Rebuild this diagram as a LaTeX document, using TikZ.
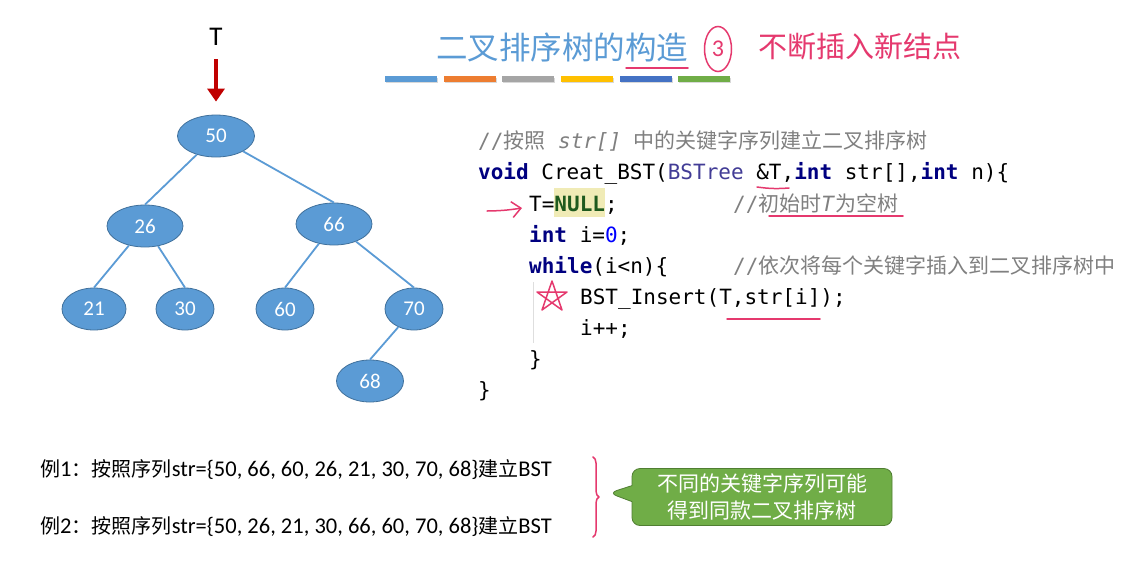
\documentclass[tikz,border=0pt]{standalone}
\usepackage{fontspec}
\setmainfont{Carlito}
\setmonofont{DejaVu Sans Mono}
\newfontfamily\cjk{Noto Sans CJK SC}
\newfontfamily\cjksmall[Scale=0.89]{Noto Sans CJK SC}
\usepackage{xcolor}
\definecolor{nodeblue}{RGB}{91,155,213}
\definecolor{nodeedge}{RGB}{65,113,156}
\definecolor{darkred}{RGB}{192,0,0}
\definecolor{inkpink}{RGB}{229,57,110}
\definecolor{kwblue}{RGB}{0,0,128}
\definecolor{typepurple}{RGB}{66,60,150}
\definecolor{nullgreen}{RGB}{30,90,30}
\definecolor{hlyellow}{RGB}{240,235,182}
\definecolor{cmtgray}{RGB}{128,128,128}
\definecolor{numblue}{RGB}{0,0,255}
\definecolor{guidegray}{RGB}{222,222,222}
\definecolor{calloutgreen}{RGB}{112,173,71}
\definecolor{calloutedge}{RGB}{80,126,50}
\definecolor{barblue}{RGB}{91,155,213}
\definecolor{barorange}{RGB}{237,125,49}
\definecolor{bargray}{RGB}{165,165,165}
\definecolor{baryellow}{RGB}{255,192,0}
\definecolor{bardarkblue}{RGB}{68,114,196}
\definecolor{bargreen}{RGB}{112,173,71}
\usepackage{tikz}
\usetikzlibrary{arrows.meta}
\usetikzlibrary{shapes.geometric}
\usetikzlibrary{shapes.callouts}
\usetikzlibrary{shadows}
\usetikzlibrary{decorations.pathreplacing}
\newcommand{\widthbar}{52pt}
\newcommand{\stepbar}{58.6}
\newcommand{\kw}[1]{\textcolor{kwblue}{\bfseries #1}}
\newcommand{\hlnull}[1]{{\setlength{\fboxsep}{0pt}\colorbox{hlyellow}{\rule[-6pt]{0pt}{29pt}\textcolor{nullgreen}{\bfseries #1}}}}
\tikzset{
    vertex/.style={ellipse, draw=nodeedge, fill=nodeblue, text=white, line width=0.8pt,
        font=\fontsize{21}{21}\selectfont, minimum height=42pt, inner sep=0pt},
    branch/.style={nodeblue, line width=1.8pt},
    rootarrow/.style={darkred, line width=4pt, -{Triangle[width=17pt,length=13pt]}},
    colorbar/.style={anchor=west, inner sep=0pt, minimum width=\widthbar, minimum height=5.5pt, fill=#1,
        drop shadow={shadow xshift=1pt, shadow yshift=-1.5pt, opacity=0.3}},
    codeline/.style={anchor=base west, inner sep=0pt, font=\ttfamily\fontsize{21}{25}\selectfont},
    cmtline/.style={codeline, text=cmtgray},
    ink/.style={inkpink, line width=1.5pt, line cap=round, line join=round},
    remark/.style={rectangle callout, rounded corners=8pt, fill=calloutgreen, draw=calloutedge, line width=0.8pt,
        callout pointer width=16pt,
        text=white, align=center, minimum width=260pt, minimum height=57pt, font=\cjk\fontsize{21}{27}\selectfont},
    sample/.style={anchor=base west, inner sep=0pt, font=\fontsize{22.5}{26}\selectfont}
}

\begin{document}
\begin{tikzpicture}[x=1pt, y=-1pt]
    \fill[white] (0,0) rectangle (1135,563);
    \useasboundingbox (0,0) rectangle (1135,563);

    % title
    \node[anchor=west, inner sep=0pt, text=nodeblue, font=\cjk\fontsize{31.5}{31.5}\selectfont] (title) at (436,47) {二叉排序树的构造};
    \draw[ink] (626,68) -- (688,68);
    \path (385,79) node[colorbar=barblue] {}
        ++(\stepbar,0) node[colorbar=barorange] {}
        ++(\stepbar,0) node[colorbar=bargray] {}
        ++(\stepbar,0) node[colorbar=baryellow] {}
        ++(\stepbar,0) node[colorbar=bardarkblue] {}
        ++(\stepbar,0) node[colorbar=bargreen] {};
    \node[ellipse, draw=inkpink, line width=1.5pt, minimum width=27pt, minimum height=45pt, inner sep=0pt,
        text=inkpink, font=\fontsize{24}{24}\selectfont] (step) at (718,49) {3};
    \node[anchor=west, inner sep=0pt, text=inkpink, font=\cjk\fontsize{29}{29}\selectfont] (hint) at (758,46) {不断插入新结点};

    % tree
    \node[font=\fontsize{27}{27}\selectfont] (root) at (216,37) {T};
    \node[vertex, minimum width=77pt] (n50) at (216,136) {50};
    \node[vertex, minimum width=76pt] (n26) at (145,226) {26};
    \node[vertex, minimum width=76pt] (n66) at (334,224) {66};
    \node[vertex, minimum width=64pt] (n21) at (94,309) {21};
    \node[vertex, minimum width=58pt] (n30) at (185,309) {30};
    \node[vertex, minimum width=58pt] (n60) at (285,309) {60};
    \node[vertex, minimum width=58pt] (n70) at (414,309) {70};
    \node[vertex, minimum width=67pt] (n68) at (370,381) {68};
    \draw[rootarrow, shorten <=10pt, shorten >=13pt] (root.south) -- (n50.north);
    \draw[branch] (n50) -- (n26.north);
    \draw[branch] (n50) -- (n66.north);
    \draw[branch] (n26) -- (n21.north);
    \draw[branch] (n26) -- (n30.north);
    \draw[branch] (n66) -- (n60.north);
    \draw[branch] (n66) -- (n70.north);
    \draw[branch] (n70) -- (n68.north);

    % code
    \node[cmtline] (c1) at (478,148) {//{\cjk 按照} \textit{str[]} {\cjk 中的关键字序列建立二叉排序树}};
    \node[codeline] (c2) at (478,179) {\kw{void} Creat\_BST(\textcolor{typepurple}{BSTree} \&T,\kw{int} str[],\kw{int} n)\{};
    \node[codeline] (c3) at (529,211) {T=\hlnull{NULL};};
    \node[cmtline] (c3r) at (733,211) {//{\cjk 初始时}\textit{T}{\cjk 为空树}};
    \node[codeline] (c4) at (529,242) {\kw{int} i=\textcolor{numblue}{0};};
    \node[codeline] (c5) at (529,273) {\kw{while}(i<n)\{};
    \node[cmtline] (c5r) at (733,273) {//{\cjk 依次将每个关键字插入到二叉排序树中}};
    \node[codeline] (c6) at (580,304) {BST\_Insert(T,str[i]);};
    \node[codeline] (c7) at (580,335) {i++;};
    \node[codeline] (c8) at (529,366) {\}};
    \node[codeline] (c9) at (478,397) {\}};
    \draw[guidegray, line width=1pt] (533,282) -- (533,343);

    % pen marks
    \coordinate (tail) at (487,211);
    \draw[ink, -{Straight Barb[length=9pt,width=16pt]}] (tail) to[bend right=4] ([shift={(-7,-3)}]c3.base west);
    \draw[ink] (757,187) to[bend right=6] (789,188);
    \draw[ink] (769,216) -- (903,216);
    \draw[ink] (727,319) -- (820,319);
    \draw[ink] (552,281) -- (562,310) -- (537,292) -- (567,292) -- (542,310) -- cycle;

    % examples
    \node[sample] (ex1) at (40,476) {{\cjksmall 例}1{\cjksmall ：按照序列}str=\{50, 66, 60, 26, 21, 30, 70, 68\}{\cjksmall 建立}BST};
    \node[sample] (ex2) at (40,533) {{\cjksmall 例}2{\cjksmall ：按照序列}str=\{50, 26, 21, 30, 66, 60, 70, 68\}{\cjksmall 建立}BST};
    \draw[ink, decorate, decoration={brace, amplitude=6pt}] (593,457) -- (593,537);
    \node[remark, callout absolute pointer={(609,493)}] (note) at (762,497) {不同的关键字序列可能\\得到同款二叉排序树};
\end{tikzpicture}
\end{document}
